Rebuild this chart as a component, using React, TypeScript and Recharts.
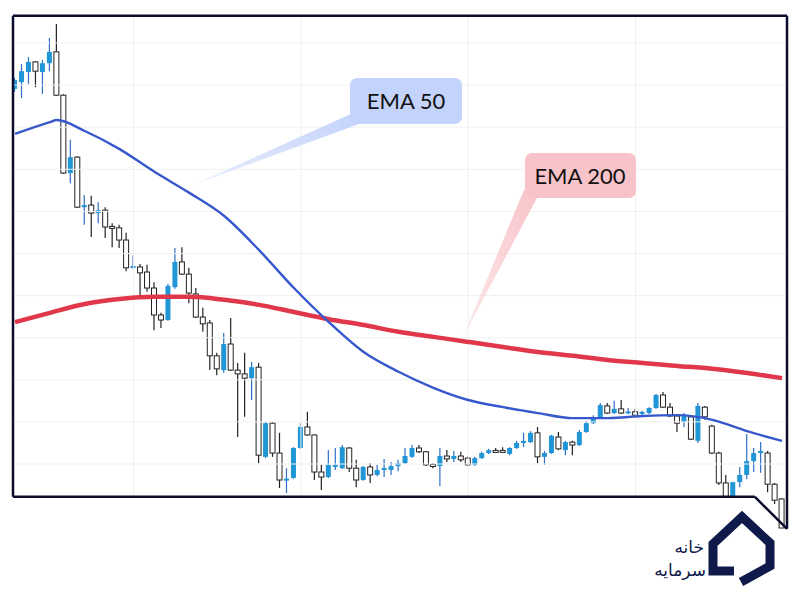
import {
  ComposedChart,
  Bar,
  Line,
  XAxis,
  YAxis,
  ReferenceLine,
} from "recharts";

// candle prices, one entry per session (left to right)
const opens = [
  189.1, 190.7, 193.1, 195.5, 193.1, 195.2, 197.9, 187.6, 169.1, 172.9,
  161.0, 161.5, 159.6, 160.3, 156.3, 156.1, 153.2, 146.6, 146.8, 145.6,
  141.8, 135.4, 134.2, 142.0, 148.0, 145.1, 140.4, 134.9, 133.5, 125.7,
  122.3, 128.5, 122.3, 121.4, 120.4, 123.0, 101.7, 109.7, 102.6, 96.2,
  96.7, 103.8, 108.8, 106.9, 98.1, 96.9, 99.3, 99.0, 103.8, 99.0,
  96.2, 99.3, 97.4, 98.6, 98.6, 99.5, 100.2, 101.7, 103.8, 102.9,
  99.8, 99.5, 101.9, 101.2, 101.9, 101.4, 99.8, 101.4, 102.6, 103.1,
  103.1, 102.4, 103.8, 105.0, 105.2, 107.4, 101.7, 102.6, 106.4, 103.3,
  105.2, 104.5, 107.6, 109.7, 110.9, 113.8, 112.1, 113.1, 112.1, 112.4,
  111.9, 112.1, 113.3, 116.4, 113.5, 111.4, 110.0, 111.2, 105.5, 113.5,
  109.0, 102.6, 95.5, 92.2, 95.7, 97.4, 100.7, 102.6, 102.6, 95.2, 91.7,
];
const highs = [
  191.7, 195.0, 196.7, 195.7, 196.0, 201.2, 204.5, 187.8, 177.0, 173.1,
  163.9, 163.7, 162.2, 161.0, 157.2, 156.8, 154.9, 149.6, 147.5, 147.3,
  143.2, 135.9, 142.8, 151.3, 151.5, 146.6, 141.8, 137.1, 134.2, 126.4,
  131.1, 134.7, 124.0, 126.4, 124.2, 124.0, 110.0, 110.0, 107.4, 99.0,
  104.0, 109.7, 112.4, 107.0, 99.8, 103.3, 103.8, 104.5, 104.0, 101.0,
  99.5, 100.2, 99.8, 101.2, 100.5, 101.0, 103.8, 104.5, 104.5, 103.1,
  100.2, 103.8, 103.3, 103.1, 102.9, 101.7, 101.7, 102.9, 103.6, 103.8,
  104.0, 104.0, 105.5, 107.4, 107.8, 108.8, 103.1, 106.9, 107.6, 105.5,
  105.5, 108.1, 110.2, 111.6, 114.5, 114.5, 115.0, 115.2, 113.3, 113.1,
  112.6, 113.5, 116.6, 117.1, 114.5, 111.6, 112.1, 111.4, 114.5, 113.8,
  109.3, 102.9, 97.4, 95.7, 99.3, 107.1, 103.8, 105.2, 103.1, 95.5, 91.9,
];
const lows = [
  188.4, 186.9, 190.3, 189.5, 187.9, 193.3, 187.4, 168.9, 166.7, 160.8,
  156.8, 153.9, 157.2, 153.7, 151.5, 151.3, 145.8, 146.4, 140.1, 140.9,
  131.8, 132.3, 134.0, 141.6, 144.9, 138.2, 134.7, 131.4, 122.3, 121.1,
  121.6, 122.1, 106.4, 111.2, 115.2, 100.2, 101.4, 101.7, 94.3, 93.1,
  96.5, 103.6, 106.7, 96.2, 93.8, 96.7, 98.6, 98.8, 98.1, 94.5,
  96.0, 95.5, 97.1, 96.9, 97.4, 98.3, 100.0, 101.4, 102.6, 99.5,
  99.0, 94.8, 100.5, 100.5, 100.5, 99.5, 99.5, 101.2, 102.4, 102.6,
  102.6, 102.1, 103.6, 104.0, 105.0, 100.2, 99.8, 102.4, 103.3, 102.1,
  102.1, 104.3, 107.4, 109.5, 110.7, 111.9, 111.9, 111.9, 111.9, 111.4,
  111.6, 111.9, 113.1, 113.3, 111.2, 107.6, 108.8, 105.7, 105.0, 110.5,
  102.4, 95.0, 91.9, 91.9, 94.5, 96.4, 98.1, 97.9, 93.3, 90.5, 84.8,
];
const closes = [
  191.2, 193.3, 195.5, 193.3, 195.2, 197.9, 187.6, 169.1, 172.9, 161.0,
  161.5, 159.6, 160.3, 156.3, 156.1, 153.2, 146.6, 147.0, 145.4, 141.8,
  135.4, 134.2, 142.3, 148.0, 145.1, 140.6, 134.9, 133.3, 125.7, 122.6,
  128.5, 122.3, 121.4, 120.4, 123.0, 102.1, 109.7, 102.6, 96.2, 96.4,
  103.8, 108.8, 106.9, 98.1, 96.9, 99.8, 99.8, 104.0, 99.0, 96.2,
  99.3, 97.4, 98.6, 99.0, 99.5, 100.2, 101.9, 103.8, 102.9, 99.8,
  99.5, 101.9, 101.2, 101.9, 101.0, 99.8, 101.4, 102.6, 103.3, 102.9,
  102.9, 103.8, 105.0, 105.5, 107.4, 101.7, 102.6, 106.7, 103.6, 105.2,
  104.5, 107.6, 109.7, 110.9, 114.0, 112.1, 113.1, 112.1, 112.4, 111.6,
  112.4, 113.3, 116.4, 113.5, 111.4, 109.7, 111.6, 105.9, 113.8, 111.2,
  102.6, 95.5, 92.2, 95.7, 97.4, 100.7, 102.6, 103.1, 95.2, 91.4, 84.8,
];

// moving averages, read at selected sessions
const ema50At = [0, 5, 6, 10, 15, 20, 25, 30, 35, 40, 45, 50, 55, 60, 65, 70, 75, 80, 85, 90, 95, 100, 105, 110];
const ema50 = [
  178.4, 181.2, 181.7, 179.1, 174.8, 169.4, 164.4, 158.9, 150.8, 141.8, 133.7, 126.6,
  121.9, 118.1, 115.2, 113.5, 112.1, 110.9, 110.9, 111.4, 111.6, 110.5, 107.8, 105.5,
];
const ema200At = [0, 5, 10, 15, 20, 25, 30, 35, 40, 45, 50, 55, 60, 65, 70, 75, 80, 85, 90, 95, 100, 105, 110];
const ema200 = [
  133.7, 135.9, 138.0, 139.2, 139.7, 139.7, 139.0, 137.8, 136.1, 134.4, 133.0, 131.4,
  130.2, 129.0, 127.8, 126.6, 125.7, 124.7, 124.0, 123.3, 122.6, 121.6, 120.4,
];

const priceTicks = [100, 110, 120, 130, 140, 150, 160, 170, 180, 190, 200];
const timeTicks = [17, 41, 65, 89];

const X_DOMAIN: [number, number] = [-0.29, 110.71];
const Y_DOMAIN: [number, number] = [83.85, 206.65];
const FRAME_TOP = 206.5;
const FRAME_BOTTOM = 92.2;
const CUT_X = 106.1;
const CORNER_Y = 84.6;

const UP = "#2196d6";
const FRAME = "#0c0c2c";
const NAVY = "#101a4a";
const GRID = "#f0f0f0";

const candles = opens.map((o, i) => ({
  i,
  open: o,
  high: highs[i],
  low: lows[i],
  close: closes[i],
  range: [lows[i], highs[i]],
}));
const ema50Data = ema50At.map((i, k) => ({ i, v: ema50[k] }));
const ema200Data = ema200At.map((i, k) => ({ i, v: ema200[k] }));

function Candle(props: any) {
  const { x, y, width, height, payload } = props;
  if (!payload || x == null) return null;
  const { open, close, high, low } = payload;
  const top = Math.min(y, y + height);
  const h = Math.abs(height);
  const ratio = h / (high - low);
  const cx = x + width / 2;
  const yO = top + (high - open) * ratio;
  const yC = top + (high - close) * ratio;
  const up = close > open;
  let bTop = Math.min(yO, yC);
  let bH = Math.abs(yO - yC);
  if (bH < 2) {
    bTop -= (2 - bH) / 2;
    bH = 2;
  }
  return (
    <g>
      <line x1={cx} x2={cx} y1={top} y2={top + h} stroke={up ? "#2f6fc8" : "#222"} strokeWidth={1.2} />
      {up ? (
        <rect x={cx - 2.5} y={bTop} width={5} height={bH} fill={UP} />
      ) : (
        <rect x={cx - 2.5} y={bTop} width={5} height={bH} fill="#fff" stroke="#222" strokeWidth={1} />
      )}
    </g>
  );
}

function Overlay() {
  return (
    <svg
      width={800}
      height={600}
      style={{ position: "absolute", left: 0, top: 0, pointerEvents: "none" }}
    >
      <defs>
        <linearGradient id="g50" x1="1" y1="0" x2="0" y2="1">
          <stop offset="0" stopColor="#c3d3fb" stopOpacity={1} />
          <stop offset="1" stopColor="#c3d3fb" stopOpacity={0.35} />
        </linearGradient>
        <linearGradient id="g200" x1="1" y1="0" x2="0" y2="1">
          <stop offset="0" stopColor="#f8c3c8" stopOpacity={1} />
          <stop offset="1" stopColor="#f8c3c8" stopOpacity={0.35} />
        </linearGradient>
      </defs>
      <polygon points="351,114 359,124 193,185" fill="url(#g50)" />
      <rect x={350} y={78} width={112} height={46} rx={7} fill="#c3d3fb" />
      <text x={406} y={109} textAnchor="middle" fontFamily="Lato, sans-serif" fontSize={22} fill="#111">
        EMA 50
      </text>
      <polygon points="524,190 537,198 463,337" fill="url(#g200)" />
      <rect x={525} y={153} width={111} height={45} rx={7} fill="#f8c3c8" />
      <text x={580} y={184} textAnchor="middle" fontFamily="Lato, sans-serif" fontSize={22} fill="#111">
        EMA 200
      </text>
      <polyline
        points="734,571 713,571 713,544 742,517 770,543 770,566 741,582"
        fill="none"
        stroke={NAVY}
        strokeWidth={9}
        strokeLinejoin="miter"
      />
      <text x={704} y={553} textAnchor="end" fontFamily="DejaVu Sans" fontSize={17} fill={NAVY}>
        خانه
      </text>
      <text x={706} y={576} textAnchor="end" fontFamily="DejaVu Sans" fontSize={17} fill={NAVY}>
        سرمایه
      </text>
    </svg>
  );
}

export default function App() {
  return (
    <div
      style={{
        position: "absolute",
        left: 0,
        top: 0,
        width: 800,
        height: 600,
        background: "#fff",
      }}
    >
      <ComposedChart
        width={800}
        height={600}
        data={candles}
        margin={{ top: 15, right: 13, left: 13, bottom: 68 }}
      >
        <XAxis dataKey="i" type="number" domain={X_DOMAIN} hide allowDataOverflow />
        <YAxis type="number" domain={Y_DOMAIN} hide allowDataOverflow />
        {priceTicks.map((p) => (
          <ReferenceLine
            key={"h" + p}
            segment={[
              { x: X_DOMAIN[0], y: p },
              { x: X_DOMAIN[1], y: p },
            ]}
            stroke={GRID}
            ifOverflow="visible"
          />
        ))}
        {timeTicks.map((t) => (
          <ReferenceLine
            key={"v" + t}
            segment={[
              { x: t, y: FRAME_BOTTOM },
              { x: t, y: FRAME_TOP },
            ]}
            stroke={GRID}
            ifOverflow="visible"
          />
        ))}
        <Line
          data={ema200Data}
          dataKey="v"
          type="monotone"
          stroke="#e0384a"
          strokeWidth={4.5}
          dot={false}
          isAnimationActive={false}
        />
        <Line
          data={ema50Data}
          dataKey="v"
          type="monotone"
          stroke="#3658cc"
          strokeWidth={2.4}
          dot={false}
          isAnimationActive={false}
        />
        <Bar dataKey="range" barSize={6} shape={<Candle />} isAnimationActive={false} />
        <ReferenceLine
          segment={[
            { x: X_DOMAIN[0], y: FRAME_TOP },
            { x: X_DOMAIN[1], y: FRAME_TOP },
          ]}
          stroke={FRAME}
          strokeWidth={2.5}
          ifOverflow="visible"
        />
        <ReferenceLine
          segment={[
            { x: X_DOMAIN[0], y: FRAME_TOP },
            { x: X_DOMAIN[0], y: FRAME_BOTTOM },
          ]}
          stroke={FRAME}
          strokeWidth={2.5}
          ifOverflow="visible"
        />
        <ReferenceLine
          segment={[
            { x: X_DOMAIN[0], y: FRAME_BOTTOM },
            { x: CUT_X, y: FRAME_BOTTOM },
          ]}
          stroke={FRAME}
          strokeWidth={2.5}
          ifOverflow="visible"
        />
        <ReferenceLine
          segment={[
            { x: CUT_X, y: FRAME_BOTTOM },
            { x: X_DOMAIN[1], y: CORNER_Y },
          ]}
          stroke={FRAME}
          strokeWidth={2.5}
          ifOverflow="visible"
        />
        <ReferenceLine
          segment={[
            { x: X_DOMAIN[1], y: FRAME_TOP },
            { x: X_DOMAIN[1], y: CORNER_Y },
          ]}
          stroke={FRAME}
          strokeWidth={2.5}
          ifOverflow="visible"
        />
      </ComposedChart>
      <Overlay />
    </div>
  );
}
